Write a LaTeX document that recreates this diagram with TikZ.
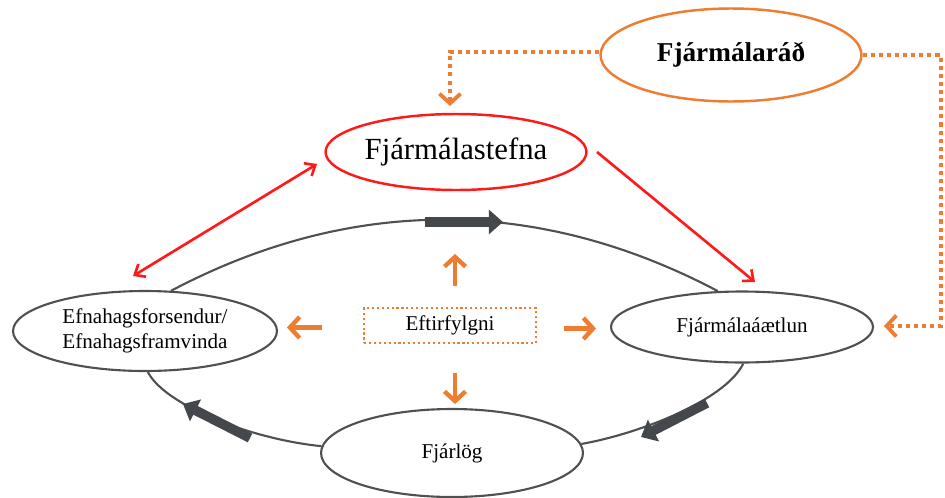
\documentclass[tikz,border=0pt]{standalone}
\usepackage{fontspec}
\setmainfont{Liberation Serif}
\usetikzlibrary{arrows.meta,shapes.geometric}
\definecolor{orng}{HTML}{ED7D31}
\definecolor{rd}{HTML}{FF1A1A}
\definecolor{gry}{HTML}{505050}
\definecolor{dgry}{HTML}{44484D}
\tikzset{
  rtip/.tip={Straight Barb[length=5pt,width=8.5pt]},
  otip/.tip={Straight Barb[length=5.5pt,width=12pt]},
}
\begin{document}
\begin{tikzpicture}[x=0.02cm,y=-0.02cm,
  ell/.style={ellipse, draw=gry, line width=1.2pt, inner sep=0pt, align=center,
    font=\fontsize{12pt}{14.2pt}\selectfont},
  cyc/.style={gry, line width=1.2pt},
  bigarrow/.style={dgry, line width=5.5pt, -{Triangle[length=8pt,width=13.5pt]}},
  redline/.style={rd, line width=1.5pt},
  odot/.style={orng, line width=2.2pt, dash pattern=on 2.3pt off 2.3pt},
  oarr/.style={orng, line width=2.5pt, -{otip}},
]
\useasboundingbox (0,0) rectangle (945,497);

% nodes
\node[ell, minimum width=5.28cm, minimum height=1.6cm] (efn) at (145,331)
  {Efnahagsforsendur/\\Efnahagsframvinda};
\node[ell, minimum width=5.24cm, minimum height=1.42cm] (aetl) at (742,327) {Fjármálaáætlun};
\node[ell, minimum width=5.24cm, minimum height=1.76cm] (log) at (452,453) {Fjárlög};
\node[ell, draw=rd, line width=1.4pt, minimum width=5.22cm, minimum height=1.52cm,
  font=\fontsize{17.5pt}{20pt}\selectfont] (stefna) at (456,152) {Fjármálastefna};
\node[ell, draw=orng, line width=1.4pt, minimum width=5.22cm, minimum height=1.86cm,
  font=\bfseries\fontsize{15.5pt}{18pt}\selectfont] (rad) at (731,55) {Fjármálaráð};
\node[draw=orng, line width=1.2pt, dash pattern=on 1.2pt off 1.6pt,
  minimum width=3.44cm, minimum height=0.7cm, inner sep=0pt,
  font=\fontsize{12pt}{14pt}\selectfont] (eft) at (450,325.5) {Eftirfylgni};

% cycle
\draw[cyc] (efn.57) .. controls +(180,-95) and +(-180,-95) .. (aetl.124);
\draw[cyc] (aetl.-88) .. controls +(-18,37) and +(57,-10) .. (log.4);
\draw[cyc] (log.177) .. controls +(-71,-7) and +(17,33) .. (efn.-86);

% thick direction arrows on the cycle
\draw[bigarrow] (425,222) -- (503,222);
\draw[bigarrow] (707,403) -- (641,437);
\draw[bigarrow] (250,438) -- (183,404);

% red arrows
\coordinate (r1s) at (317,164);
\coordinate (r1e) at (133,276);
\coordinate (r2s) at (597,152);
\coordinate (r2e) at (755,282);
\draw[redline, {rtip}-{rtip}] (r1s) -- (r1e);
\draw[redline, -{rtip}] (r2s) -- (r2e);

% dotted orange connectors from Fjarmalarad
\coordinate (t1) at (450,106);
\coordinate (t2) at (884,326);
\draw[odot, -{otip}] ([yshift=1.7pt]rad.west) -| (t1);
\draw[odot, -{otip}] (rad.east) -- ++(78,0) |- (t2);

% orange arrows out of Eftirfylgni
\draw[oarr] (eft.north) ++(5,-21) -- ++(0,-32);
\draw[oarr] (eft.west) ++(-41,2) -- ++(-35,0);
\draw[oarr] (eft.east) ++(27,3) -- ++(32,0);
\draw[oarr] (eft.south) ++(5,29) -- ++(0,31);
\end{tikzpicture}
\end{document}
